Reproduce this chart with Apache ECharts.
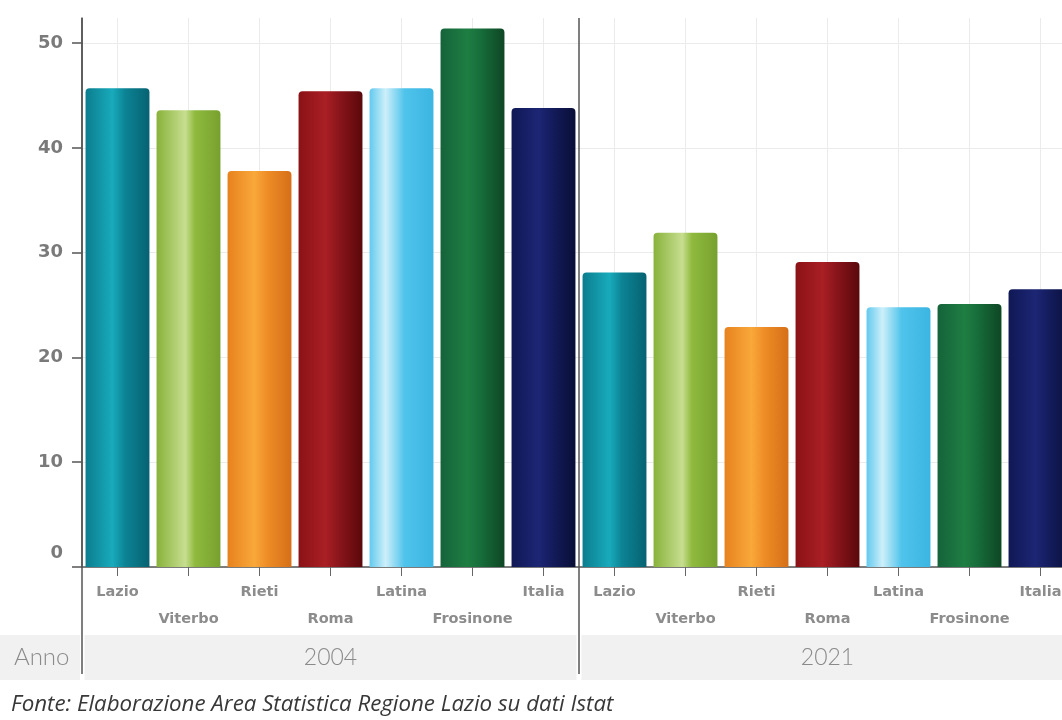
<!DOCTYPE html>
<html>
<head>
<meta charset="utf-8">
<script src="https://cdn.jsdelivr.net/npm/echarts@6/dist/echarts.min.js"></script>
<style>
  html, body { margin: 0; padding: 0; background: #ffffff; }
  #chart { width: 1062px; height: 720px; }
</style>
</head>
<body>
<div id="chart"></div>
<script>
// Province / area names, repeated for each year group
const categories = ['Lazio', 'Viterbo', 'Rieti', 'Roma', 'Latina', 'Frosinone', 'Italia'];
const years = ['2004', '2021'];
const values2004 = [45.7, 43.6, 37.8, 45.4, 45.7, 51.4, 43.8];
const values2021 = [28.1, 31.9, 22.9, 29.1, 24.8, 25.1, 26.5];
const yTicks = [0, 10, 20, 30, 40, 50];
const yearAxisTitle = 'Anno';
const sourceNote = 'Fonte: Elaborazione Area Statistica Regione Lazio su dati Istat';

// Cylinder-like shading for each area: [offset, colour] stops, left to right
const palette = [
  [[0, '#0b7d8e'], [0.42, '#18abbc'], [0.62, '#0c8394'], [1, '#066272']],
  [[0, '#88b23a'], [0.45, '#c7de90'], [0.6, '#8fba3e'], [1, '#77a12e']],
  [[0, '#e7821e'], [0.42, '#f9a83a'], [0.62, '#ee8d26'], [1, '#d66f18']],
  [[0, '#8a1216'], [0.42, '#a91f24'], [0.66, '#86141a'], [1, '#5a090c']],
  [[0, '#62c9ee'], [0.25, '#cdeffa'], [0.55, '#4fc3eb'], [1, '#3bb5e2']],
  [[0, '#15633a'], [0.42, '#1e7e42'], [0.62, '#176e3b'], [1, '#0e4624']],
  [[0, '#101855'], [0.42, '#1c2674'], [0.66, '#131b5a'], [1, '#090e36']]
];

const xData = years.flatMap(() => categories);
const yValues = values2004.concat(values2021);

function shade(stops) {
  return {
    type: 'linear', x: 0, y: 0, x2: 1, y2: 0,
    colorStops: stops.map(s => ({ offset: s[0], color: s[1] }))
  };
}

const barData = yValues.map((v, i) => ({
  value: v,
  itemStyle: { color: shade(palette[i % categories.length]), borderRadius: [4, 4, 0, 0] }
}));

const chart = echarts.init(document.getElementById('chart'), null, { renderer: 'canvas' });

const axisDark = '#555555';
const bandGray = '#f1f1f1';
const bandTop = 635;
const bandHeight = 45;

chart.setOption({
  animation: false,
  backgroundColor: '#ffffff',
  title: {
    text: sourceNote,
    left: 11,
    top: 694,
    padding: 0,
    textStyle: {
      fontFamily: 'Open Sans',
      fontStyle: 'italic',
      fontWeight: 'normal',
      fontSize: 22.3,
      color: '#383838'
    }
  },
  // band with the title of the year axis, left of the plot
  graphic: [
    {
      type: 'rect',
      left: 0,
      top: bandTop,
      shape: { width: 80, height: bandHeight },
      style: { fill: bandGray },
      z: 0
    },
    {
      type: 'text',
      x: 14,
      y: bandTop + bandHeight / 2,
      style: {
        text: yearAxisTitle,
        fontFamily: 'Lato',
        fontWeight: 300,
        fontSize: 24,
        fill: '#8a8a8a',
        verticalAlign: 'middle'
      },
      z: 1
    }
  ],
  grid: { left: 82, top: 18, width: 994, height: 549, outerBoundsMode: 'none', containLabel: false },
  xAxis: [
    {
      type: 'category',
      data: xData,
      position: 'bottom',
      axisLine: { show: true, lineStyle: { color: axisDark, width: 1.5 } },
      axisTick: { show: true, alignWithLabel: true, length: 9, lineStyle: { color: '#666666' } },
      splitLine: { show: true, alignWithLabel: true, lineStyle: { color: '#ebebeb', width: 1 } },
      axisLabel: {
        interval: 0,
        margin: 12,
        lineHeight: 27,
        fontFamily: 'DejaVu Sans',
        fontWeight: 'bold',
        fontSize: 14.5,
        color: '#8c8c8c',
        formatter: (v, i) => ((i % categories.length) % 2 ? '\n' + v : v)
      }
    },
    {
      type: 'category',
      data: years,
      position: 'bottom',
      boundaryGap: true,
      axisLine: { show: false },
      axisTick: { show: true, length: 107, lineStyle: { color: axisDark, width: 1.5 } },
      splitLine: { show: true, lineStyle: { color: axisDark, width: 1.5 } },
      axisLabel: {
        interval: 0,
        margin: 68,
        formatter: v => '{y|' + v + '}',
        rich: {
          y: {
            width: 492,
            height: bandHeight,
            align: 'center',
            verticalAlign: 'middle',
            backgroundColor: bandGray,
            fontFamily: 'Lato',
            fontWeight: 300,
            fontSize: 23,
            color: '#8a8a8a'
          }
        }
      }
    }
  ],
  yAxis: {
    type: 'value',
    min: 0,
    max: 52.4,
    interval: 10,
    axisLine: { show: true, lineStyle: { color: axisDark, width: 1.5 } },
    axisTick: { show: true, length: 10, customValues: yTicks, lineStyle: { color: axisDark, width: 1.5 } },
    splitLine: { show: true, lineStyle: { color: '#ebebeb', width: 1 } },
    axisLabel: {
      margin: 19,
      customValues: yTicks,
      fontFamily: 'DejaVu Sans',
      fontWeight: 'bold',
      fontSize: 18,
      color: '#7a7a7a',
      formatter: v => (v === 0 ? '{z|0}' : String(v)),
      rich: {
        z: {
          padding: [0, 0, 28, 0],
          fontFamily: 'DejaVu Sans',
          fontWeight: 'bold',
          fontSize: 18,
          color: '#7a7a7a'
        }
      }
    }
  },
  series: [
    {
      type: 'bar',
      xAxisIndex: 0,
      yAxisIndex: 0,
      data: barData,
      barCategoryGap: '10%',
      z: 3
    }
  ]
});
</script>
</body>
</html>
